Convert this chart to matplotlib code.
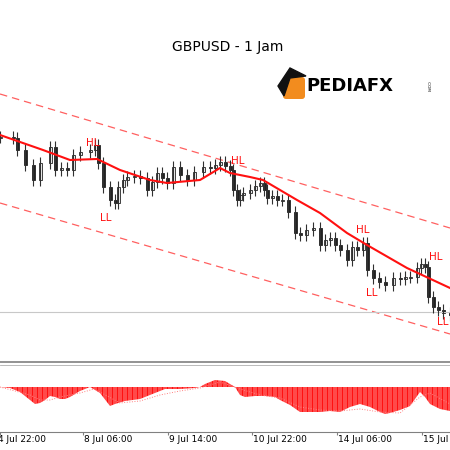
import matplotlib.pyplot as plt
import matplotlib.patches as mpatches
import numpy as np

# price traced in chart units (screen rows, larger = lower price)
candle_x = [0, 13, 17, 25, 33, 40, 50, 55, 61, 67, 73, 80, 90, 95, 98, 103, 110, 115, 118, 123, 127, 134,
            140, 147, 152, 157, 162, 167, 173, 180, 187, 194, 203, 210, 215, 220, 225, 230, 233, 237, 240,
            243, 250, 255, 260, 264, 267, 272, 277, 282, 288, 295, 300, 306, 313, 320, 325, 330, 335, 340,
            347, 352, 357, 363, 367, 373, 379, 385, 393, 400, 405, 410, 417, 421, 425, 428, 433, 438, 443, 450]
candle_close = [137, 138, 150, 165, 180, 163, 147, 170, 168, 170, 155, 152, 150, 145, 163, 187, 200, 203,
                187, 180, 177, 176, 178, 190, 182, 173, 178, 183, 167, 175, 180, 172, 167, 168, 165, 162,
                166, 170, 190, 200, 195, 193, 190, 186, 183, 190, 198, 196, 200, 200, 212, 233, 235, 230,
                228, 245, 240, 238, 245, 250, 260, 247, 250, 243, 270, 278, 282, 285, 278, 279, 277, 277,
                268, 264, 267, 297, 307, 310, 313, 315]
ma_x = [0, 43, 70, 97, 120, 150, 167, 200, 220, 230, 250, 263, 297, 320, 347, 367, 407, 450]
ma_y = [135, 150, 160, 159, 170, 180, 183, 180, 168, 173, 177, 180, 200, 213, 233, 245, 268, 288]
upper_chan = [(0, 94), (450, 228)]
lower_chan = [(0, 203), (450, 334)]
labels = [("HL", 93, 143), ("LL", 106, 218), ("HL", 238, 161), ("HL", 363, 230),
          ("LL", 372, 293), ("HL", 436, 257), ("LL", 443, 322)]

hist_x = [0, 10, 20, 30, 35, 40, 45, 50, 55, 60, 65, 70, 75, 80, 90, 100, 110, 115, 125, 140, 150, 160,
          165, 170, 180, 195, 200, 205, 215, 225, 235, 240, 245, 255, 265, 275, 280, 290, 300, 310, 320,
          330, 340, 350, 360, 370, 380, 385, 390, 400, 410, 420, 425, 430, 440, 450]
hist_v = [0, -1, -5, -13, -17, -16, -13, -9, -10, -12, -12, -10, -7, -4, 0, -6, -19, -17, -14, -12, -8,
          -4, -2, -2, -2, -1, 0, 3, 7, 6, 0, -8, -10, -9, -9, -10, -13, -18, -25, -25, -25, -24, -25, -20,
          -17, -20, -25, -27, -26, -23, -19, -5, -10, -17, -22, -24]
sig_x = [0, 30, 40, 50, 60, 80, 94, 100, 120, 140, 160, 180, 200, 220, 240, 260, 280, 300, 320, 340,
         360, 380, 400, 420, 430, 450]
sig_v = [0, -8, -13, -13, -10, -6, -2, -5, -16, -14, -8, -4, -1, 5, -2, -8, -11, -20, -23, -24, -22,
         -25, -26, -10, -6, -17]
tick_x = [0, 83, 168, 252, 337, 422]
tick_lab = ["4 Jul 22:00", "8 Jul 06:00", "9 Jul 14:00", "10 Jul 22:00", "14 Jul 06:00", "15 Jul 14:00"]

fig = plt.figure(figsize=(4.5, 4.5), dpi=100)
ax = fig.add_axes([0, 0, 1, 1])
ax.set_xlim(0, 450)
ax.set_ylim(450, 0)
ax.axis("off")

red = "#ff1010"
# channel
for ch in (upper_chan, lower_chan):
    ax.plot([ch[0][0], ch[1][0]], [ch[0][1], ch[1][1]], color="#ff6060", lw=0.9, dashes=(6, 4))
ax.axhline(312, color="#c8c8c8", lw=0.8)

# candles
prev = candle_close[0]
for x, c in zip(candle_x, candle_close):
    lo, hi = min(prev, c), max(prev, c)
    ax.vlines(x, lo - 6, hi + 6, color="#303030", lw=0.8)
    ax.add_patch(mpatches.Rectangle((x - 1.5, lo), 3.0, max(hi - lo, 1),
                                    facecolor="#222222" if c > prev else "#f0f0f0", edgecolor="#222222", lw=0.6))
    prev = c

ax.plot(ma_x, ma_y, color=red, lw=1.5)
for t, x, y in labels:
    ax.text(x, y, t, color=red, fontsize=7.5, ha="center", va="center")

ax.text(228, 47, "GBPUSD - 1 Jam", fontsize=10, ha="center", va="center", family="DejaVu Sans")
# logo
ax.add_patch(mpatches.FancyBboxPatch((286, 80), 16, 16, boxstyle="round,pad=3", facecolor="#f28c1e",
                                     edgecolor="none"))
ax.add_patch(mpatches.Polygon([[278, 86], [290, 68], [306, 76], [290, 78], [284, 96]], color="#111111"))
ax.text(306, 86, "PEDIAFX", fontsize=13, fontweight="bold", ha="left", va="center")
ax.text(428, 86, ".COM", fontsize=3, rotation=-90, ha="center", va="center")

# separator and indicator panel
ax.axhline(362, color="#808080", lw=1.2)
ax.axhline(365, color="#b0b0b0", lw=0.6)
ax.fill_between(hist_x, 387, [387 - v for v in hist_v], color=red, lw=0)
ax.vlines(np.arange(1, 450, 2.5), 370, 430, color="white", lw=0.35)
ax.plot(sig_x, [387 - v for v in sig_v], color="#ff8080", lw=0.7, ls=":")
ax.axhline(432, color="#808080", lw=0.8)
for x, l in zip(tick_x, tick_lab):
    ax.vlines(x, 432, 435, color="#808080", lw=0.8)
    ax.text(x + 1 if x else -2, 440, l, fontsize=6.5, ha="left", va="center")

fig.savefig("out.png", dpi=100)
